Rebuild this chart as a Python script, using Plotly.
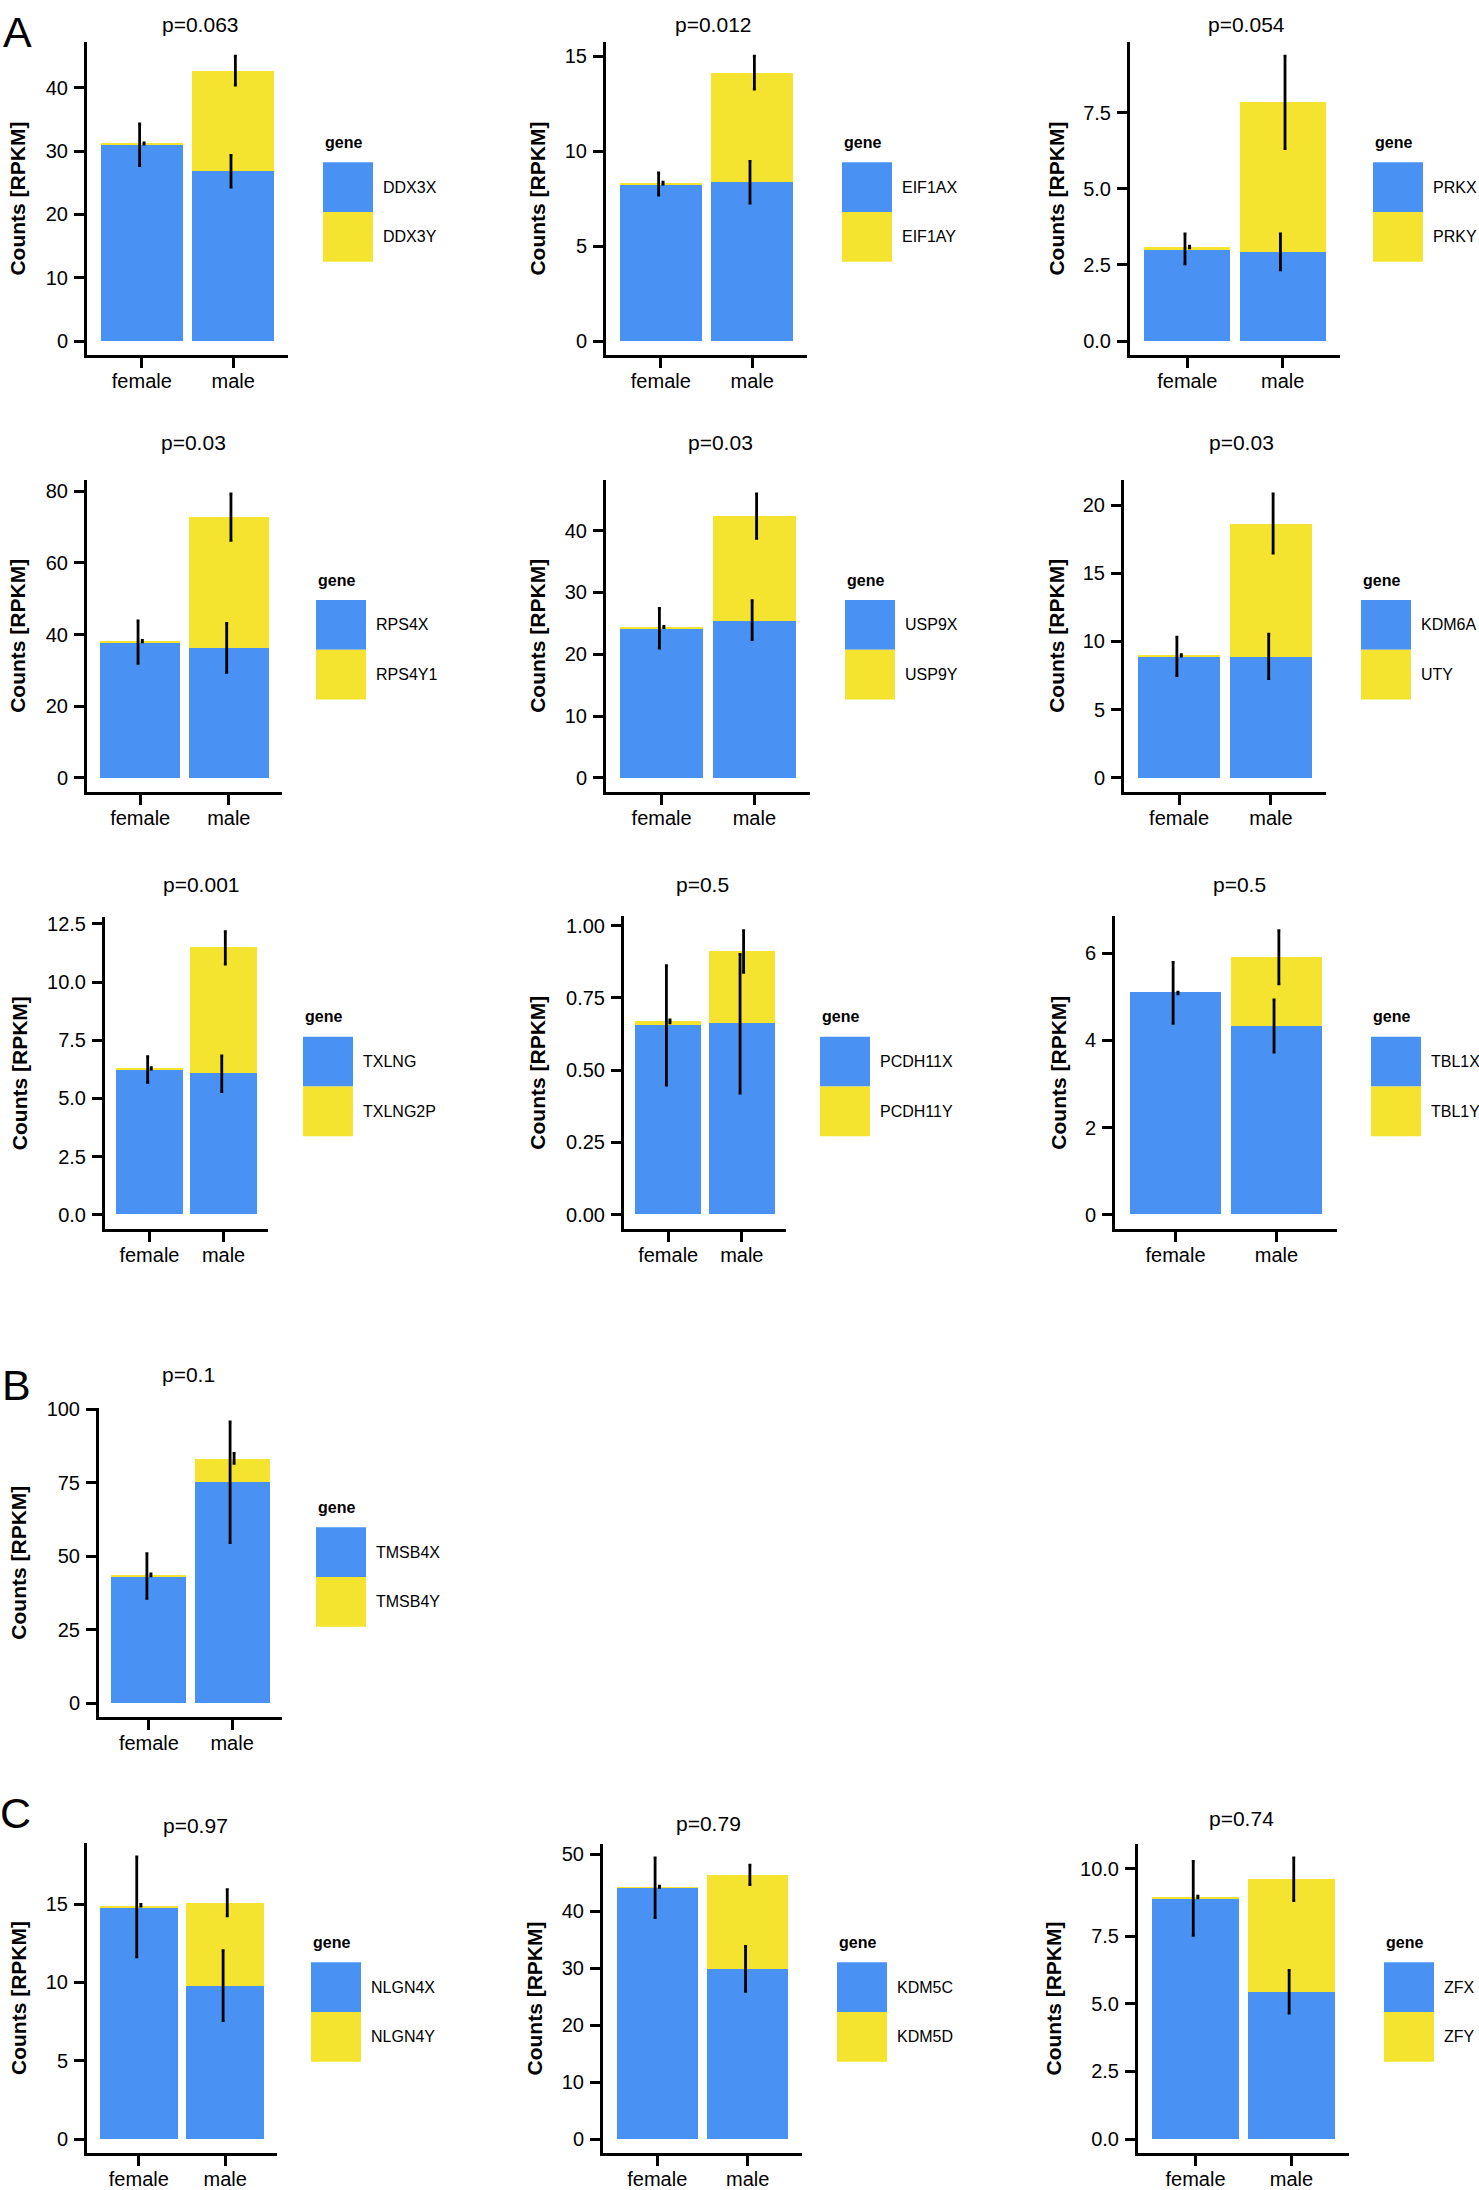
import plotly.graph_objects as go

W, H = 1479, 2190

# ---------------- data ----------------
sexes = ["female", "male"]
genes_x = ["DDX3X", "EIF1AX", "PRKX", "RPS4X", "USP9X", "KDM6A", "TXLNG",
           "PCDH11X", "TBL1X", "TMSB4X", "NLGN4X", "KDM5C", "ZFX"]
genes_y = ["DDX3Y", "EIF1AY", "PRKY", "RPS4Y1", "USP9Y", "UTY", "TXLNG2P",
           "PCDH11Y", "TBL1Y", "TMSB4Y", "NLGN4Y", "KDM5D", "ZFY"]
p_labels = ["p=0.063", "p=0.012", "p=0.054", "p=0.03", "p=0.03", "p=0.03", "p=0.001",
            "p=0.5", "p=0.5", "p=0.1", "p=0.97", "p=0.79", "p=0.74"]

# mean counts (RPKM) of the X gene and the Y gene, per sex
x_female = [31.0, 8.27, 3.03, 37.9, 24.2, 8.9, 6.24, 0.655, 5.09, 43.3, 14.83, 44.16, 8.9]
x_male = [26.8, 8.36, 2.93, 36.3, 25.5, 8.9, 6.06, 0.661, 4.33, 75.2, 9.8, 29.9, 5.45]
y_female = [0.2, 0.05, 0.06, 0.3, 0.2, 0.08, 0.05, 0.014, 0.0, 0.4, 0.1, 0.15, 0.05]
y_male = [15.9, 5.78, 4.92, 36.5, 16.85, 9.76, 5.41, 0.25, 1.58, 8.1, 5.29, 16.5, 4.16]
# error bar half-lengths
x_female_err = [3.3, 0.58, 0.49, 5.95, 3.2, 1.41, 0.55, 0.207, 0.7, 7.6, 3.19, 5.25, 1.37]
x_male_err = [2.5, 1.1, 0.59, 6.85, 3.15, 1.63, 0.77, 0.24, 0.6, 20.5, 2.23, 3.93, 0.79]
y_female_err = [0.1, 0.05, 0.03, 0.2, 0.1, 0.05, 0.03, 0.005, 0.02, 0.3, 0.05, 0.1, 0.03]
y_male_err = [2.3, 0.87, 1.52, 6.5, 3.6, 2.17, 0.7, 0.072, 0.61, 1.7, 0.84, 1.7, 0.79]

y_tick_labels = [
    ["0", "10", "20", "30", "40"],
    ["0", "5", "10", "15"],
    ["0.0", "2.5", "5.0", "7.5"],
    ["0", "20", "40", "60", "80"],
    ["0", "10", "20", "30", "40"],
    ["0", "5", "10", "15", "20"],
    ["0.0", "2.5", "5.0", "7.5", "10.0", "12.5"],
    ["0.00", "0.25", "0.50", "0.75", "1.00"],
    ["0", "2", "4", "6"],
    ["0", "25", "50", "75", "100"],
    ["0", "5", "10", "15"],
    ["0", "10", "20", "30", "40", "50"],
    ["0.0", "2.5", "5.0", "7.5", "10.0"],
]
panel_letters = ["A", "B", "C"]
y_axis_title = "Counts [RPKM]"
legend_title = "gene"

# ---------------- layout geometry (pixels) ----------------
# (left, right, top, bottom) of each panel's axes
panel_boxes = [
    (87, 288, 32, 347), (606, 807, 32, 347), (1130, 1340, 32, 347),
    (87, 282, 472, 786), (606, 810, 472, 786), (1124, 1326, 472, 786),
    (105, 268, 912, 1225), (624, 786, 911, 1225), (1115, 1337, 911, 1225),
    (99, 282, 1405, 1716),
    (87, 277, 1842, 2154), (603, 802, 1843, 2154), (1138, 1349, 1843, 2154),
]
title_pos = [(200, 15), (713, 15), (1246, 15),
             (193, 435), (720, 435), (1241, 435),
             (201, 879), (702, 879), (1239, 879),
             (188, 1371),
             (195, 1825), (708, 1823), (1241, 1818)]
ytitle_x = [18, 538, 1057, 18, 538, 1057, 19, 538, 1059, 19, 19, 534, 1053]
legend_pos = [(323, 153), (842, 153), (1373, 153),
              (316, 593), (845, 593), (1361, 593),
              (303, 1032), (820, 1032), (1371, 1032),
              (316, 1525),
              (311, 1962), (837, 1962), (1384, 1962)]
letter_pos = [(17, 22), (16, 1382), (15, 1812)]

BLUE = "#4a91f4"
YELLOW = "#f4e42f"
FONT = "Liberation Sans"
DODGE = 0.024


def px_x(v):
    return v / W


def px_y(v):
    return 1 - v / H


fig = go.Figure()
annotations = []
shapes = []

for i in range(len(genes_x)):
    n = i + 1
    xa = "x" if n == 1 else f"x{n}"
    ya = "y" if n == 1 else f"y{n}"
    xf, xm = x_female[i], x_male[i]
    yf, ym = y_female[i], y_male[i]

    fig.add_trace(go.Bar(x=[1, 2], y=[xf, xm], width=0.9, name=genes_x[i],
                         marker=dict(color=BLUE, line=dict(width=0)),
                         xaxis=xa, yaxis=ya, showlegend=False))
    fig.add_trace(go.Bar(x=[1, 2], y=[yf, ym], width=0.9, name=genes_y[i],
                         marker=dict(color=YELLOW, line=dict(width=0)),
                         xaxis=xa, yaxis=ya, showlegend=False))
    # error bars
    fig.add_trace(go.Scatter(
        x=[1 - DODGE, 2 - DODGE], y=[xf, xm], mode="markers",
        marker=dict(size=1, color="rgba(0,0,0,0)"),
        error_y=dict(type="data", array=[x_female_err[i], x_male_err[i]],
                     color="black", thickness=2.8, width=1.5),
        xaxis=xa, yaxis=ya, showlegend=False, hoverinfo="skip"))
    fig.add_trace(go.Scatter(
        x=[1 + DODGE, 2 + DODGE], y=[xf + yf, xm + ym], mode="markers",
        marker=dict(size=1, color="rgba(0,0,0,0)"),
        error_y=dict(type="data", array=[y_female_err[i], y_male_err[i]],
                     color="black", thickness=2.8, width=1.5),
        xaxis=xa, yaxis=ya, showlegend=False, hoverinfo="skip"))

    ymax = max(xf + x_female_err[i], xm + x_male_err[i],
               xf + yf + y_female_err[i], xm + ym + y_male_err[i])
    yr = [-0.05 * ymax, 1.05 * ymax]

    L, R, T, B = panel_boxes[i]
    common = dict(showline=True, linewidth=3, linecolor="black", ticks="outside",
                  ticklen=10, tickwidth=3, tickcolor="black", showgrid=False,
                  zeroline=False, fixedrange=True,
                  tickfont=dict(family=FONT, size=20, color="black"))
    fig.update_layout(**{
        ("xaxis" if n == 1 else f"xaxis{n}"): dict(
            domain=[px_x(L), px_x(R)], range=[0.4, 2.6], anchor=ya,
            tickmode="array", tickvals=[1, 2], ticktext=sexes,
            ticklabelstandoff=-4, **common),
        ("yaxis" if n == 1 else f"yaxis{n}"): dict(
            domain=[px_y(B), px_y(T)], range=yr, anchor=xa,
            tickmode="array", tickvals=[float(t) for t in y_tick_labels[i]],
            ticktext=y_tick_labels[i], ticklabelstandoff=2, **common),
    })

    # title
    tx, ty = title_pos[i]
    annotations.append(dict(text=p_labels[i], x=px_x(tx), y=px_y(ty), xref="paper",
                            yref="paper", showarrow=False, xanchor="center",
                            yanchor="middle", font=dict(family=FONT, size=21, color="black")))
    # y axis title
    annotations.append(dict(text=y_axis_title, x=px_x(ytitle_x[i]), y=px_y((T + B) / 2),
                            xref="paper", yref="paper", showarrow=False, textangle=-90,
                            xanchor="center", yanchor="middle",
                            font=dict(family=FONT, size=21, color="black", weight="bold")))
    # legend
    lx, ltop = legend_pos[i]
    annotations.append(dict(text=legend_title, x=px_x(lx), y=px_y(ltop - 20), xref="paper",
                            yref="paper", showarrow=False, xanchor="left", yanchor="middle",
                            font=dict(family=FONT, size=16, color="black", weight="bold")))
    for k, (col, lab) in enumerate([(BLUE, genes_x[i]), (YELLOW, genes_y[i])]):
        y0 = ltop + 50 * k
        shapes.append(dict(type="rect", xref="paper", yref="paper",
                           x0=px_x(lx), x1=px_x(lx + 50), y0=px_y(y0 + 50), y1=px_y(y0),
                           fillcolor=col, line=dict(width=0), layer="above"))
        annotations.append(dict(text=lab, x=px_x(lx + 58), y=px_y(y0 + 25), xref="paper",
                                yref="paper", showarrow=False, xanchor="left",
                                yanchor="middle",
                                font=dict(family=FONT, size=16, color="black")))

for letter, (lx, ly) in zip(panel_letters, letter_pos):
    annotations.append(dict(text=letter, x=px_x(lx), y=px_y(ly), xref="paper", yref="paper",
                            showarrow=False, xanchor="center", yanchor="middle",
                            font=dict(family=FONT, size=43, color="black")))

fig.update_layout(
    width=W, height=H, autosize=False,
    margin=dict(l=0, r=0, t=0, b=0),
    paper_bgcolor="white", plot_bgcolor="white",
    barmode="stack", bargap=0,
    annotations=annotations, shapes=shapes,
    showlegend=False,
    font=dict(family=FONT, color="black"),
)

fig.write_html("out.html", config={"displayModeBar": False},
               post_script="document.body.style.margin='0';")
